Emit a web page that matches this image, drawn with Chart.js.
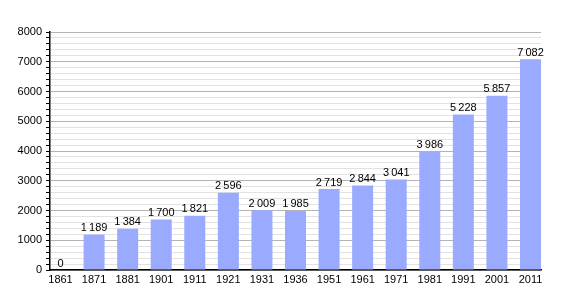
<!DOCTYPE html>
<html><head><meta charset="utf-8">
<script src="https://cdn.jsdelivr.net/npm/chart.js@4"></script>
<style>html,body{margin:0;padding:0;background:#fff}#wrap{width:570px;height:300px}</style>
</head><body><div id="wrap"><canvas id="c" width="570" height="300"></canvas></div>
<script>
const years = ["1861","1871","1881","1901","1911","1921","1931","1936","1951","1961","1971","1981","1991","2001","2011"];
const population = [0,1189,1384,1700,1821,2596,2009,1985,2719,2844,3041,3986,5228,5857,7082];
const yMax = 8000;
const yStep = 200;
const yLabelStep = 1000;

function fmt(v){ return String(v).replace(/\B(?=(\d{3})+(?!\d))/g, '\u2009'); }

const labelPlugin = {
  id: 'barLabels',
  afterDatasetsDraw(chart){
    const ctx = chart.ctx;
    const meta = chart.getDatasetMeta(0);
    ctx.save();
    ctx.font = '11px "Liberation Sans", Arial, sans-serif';
    ctx.fillStyle = '#000';
    ctx.textAlign = 'center';
    ctx.textBaseline = 'bottom';
    meta.data.forEach((el, i) => {
      ctx.fillText(fmt(population[i]), el.x, el.y - 1);
    });
    ctx.restore();
  }
};

const edge = 0.3128;

new Chart(document.getElementById('c'), {
  type: 'bar',
  data: { datasets: [{ data: population.map((v, i) => ({ x: i, y: v })), backgroundColor: '#99aaff', borderWidth: 0, categoryPercentage: 1, barPercentage: 0.6256 }] },
  options: {
    responsive: false, animation: false,
    layout: { padding: { top: 32, right: 29, left: 0, bottom: 0 } },
    plugins: { legend: { display: false }, tooltip: { enabled: false } },
    scales: {
      x: {
        type: 'linear', offset: false, min: -edge, max: years.length - 1 + edge,
        afterFit(s){ s.height = 30; },
        afterBuildTicks(s){ s.ticks = years.map((_, i) => ({ value: i })); },
        grid: { display: false, drawTicks: false },
        border: { color: '#000', width: 1.5 },
        ticks: { color: '#000', font: { family: '"Liberation Sans", Arial, sans-serif', size: 11 }, padding: 3, maxRotation: 0, autoSkip: false,
                 callback: v => years[v] }
      },
      y: {
        min: 0, max: yMax,
        afterFit(s){ s.width = 50; },
        border: { color: '#000', width: 1.5 },
        grid: {
          color: c => (c.tick && c.tick.value % yLabelStep === 0) ? '#b4b4b4' : '#e2e2e2',
          tickColor: '#000',
          tickLength: 4,
          lineWidth: 1
        },
        ticks: {
          stepSize: yStep, autoSkip: false, padding: 4,
          color: '#000',
          font: { family: '"Liberation Sans", Arial, sans-serif', size: 11 },
          callback: v => (v % yLabelStep === 0) ? String(v) : ''
        }
      }
    }
  },
  plugins: [labelPlugin]
});
</script></body></html>
